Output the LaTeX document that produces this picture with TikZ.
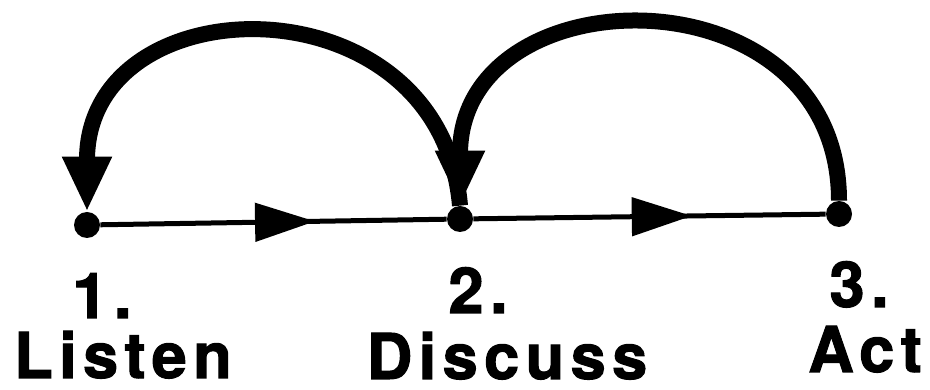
\documentclass[tikz,border=0pt]{standalone}
\usepackage{fontspec}
\setmainfont{TeX Gyre Heros}[LetterSpace=10, FakeBold=1.6]
\usetikzlibrary{arrows.meta, decorations.markings}

\begin{document}
\begin{tikzpicture}[
  dot/.style={circle, fill=black, inner sep=0pt, minimum size=5.2mm},
  lbl/.style={font=\fontsize{36}{40}\selectfont\bfseries, anchor=base, inner sep=0pt},
  ar/.style={line width=1mm, postaction={decorate},
             decoration={markings, mark=at position 0.62 with
               {\arrow{Triangle[length=12mm, width=7.6mm]}}}},
  bk/.style={line width=3.2mm, -{Triangle[length=11mm, width=9.2mm]},
             looseness=1.58}]
\useasboundingbox (0,0) rectangle (18.6,7.8);

\node[dot] (listen) at (1.74,3.30) {};
\node[dot] (discuss) at (9.20,3.42) {};
\node[dot] (act) at (16.78,3.52) {};

\node[lbl] (num1) at (2.04,1.44) {1.};
\node[lbl] (word1) at (2.46,0.24) {Listen};
\node[lbl] (num2) at (9.56,1.54) {2.};
\node[lbl] (word2) at (10.14,0.22) {Discuss};
\node[lbl] (num3) at (17.18,1.66) {3.};
\node[lbl] (word3) at (17.30,0.36) {Act};

\draw[ar] (listen) -- (discuss);
\draw[ar] (discuss) -- (act);
\draw[bk] (discuss.north) to[out=95,in=90] (listen.north);
\draw[bk] (act.north) to[out=90,in=90] (discuss.north);
\end{tikzpicture}
\end{document}
